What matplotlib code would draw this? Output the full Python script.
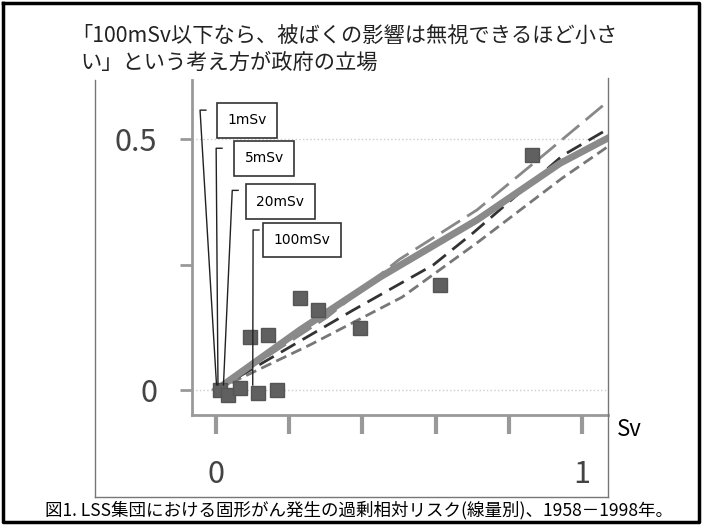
import matplotlib.pyplot as plt
from matplotlib.lines import Line2D

plt.rcParams['font.family'] = ['Noto Sans CJK JP', 'DejaVu Sans']

# data (Sv, excess relative risk)
dose_pts = [0.011, 0.033, 0.066, 0.115, 0.167, 0.093, 0.142, 0.23, 0.279, 0.393, 0.612, 0.863]
err_pts = [0.0, -0.01, 0.004, -0.006, 0.0, 0.106, 0.110, 0.183, 0.159, 0.124, 0.209, 0.468]

main_x = [0.0, 0.23, 0.448, 0.713, 0.94, 1.07]
main_y = [0.0, 0.12, 0.225, 0.339, 0.452, 0.502]
upper_x = [0.0, 0.303, 0.5, 0.713, 0.904, 1.07]
upper_y = [0.0, 0.145, 0.26, 0.359, 0.474, 0.575]
mid_x = [0.0, 0.374, 0.593, 0.702, 0.948, 1.07]
mid_y = [0.0, 0.159, 0.249, 0.313, 0.468, 0.52]
low_x = [0.0, 0.257, 0.508, 0.716, 0.945, 1.07]
low_y = [0.0, 0.09, 0.185, 0.295, 0.422, 0.485]

labels = ['1mSv', '5mSv', '20mSv', '100mSv']
label_dose = [0.001, 0.005, 0.02, 0.1]
# where the boxes and leader tops sit (data coords)
box_pos = [(0.085, 0.538), (0.131, 0.462), (0.175, 0.375), (0.235, 0.299)]
lead_top = [(-0.044, 0.558), (0.0, 0.482), (0.044, 0.398), (0.101, 0.319)]

fig = plt.figure(figsize=(7.02, 5.25), dpi=100)
ax = fig.add_axes([0.2735, 0.2095, 0.5926, 0.638])
ax.set_xlim(-0.066, 1.071)
ax.set_ylim(-0.05, 0.618)

ax.axhline(0.5, color='#cccccc', lw=1, ls=':')
ax.axhline(0.0, color='#cccccc', lw=1, ls=':')

ax.plot(low_x, low_y, color='#777777', lw=2, ls=(0, (4, 2)))
ax.plot(mid_x, mid_y, color='#333333', lw=2, ls=(0, (6, 3)))
ax.plot(upper_x, upper_y, color='#888888', lw=2, ls=(0, (8, 3)))
ax.plot(main_x, main_y, color='#8a8a8a', lw=5)
ax.plot(dose_pts, err_pts, 's', color='#606060', ms=10, mec='#555555')

for lab, d, bp, lt in zip(labels, label_dose, box_pos, lead_top):
    ax.plot([d, lt[0], lt[0] + 0.016], [0.01, lt[1], lt[1]], color='#222222', lw=1)
    ax.text(bp[0], bp[1], lab, ha='center', va='center', fontsize=10, family='DejaVu Sans',
            bbox=dict(boxstyle='square,pad=0.75', fc='white', ec='#333333', lw=1.2))

ax.set_xticks([0, 0.2, 0.4, 0.6, 0.8, 1.0])
ax.set_xticklabels(['0', '', '', '', '', '1'])
ax.set_yticks([0, 0.25, 0.5])
ax.set_yticklabels(['0', '', '0.5'])
ax.tick_params(axis='x', length=14, width=3, color='#999999', pad=18, labelsize=22, labelcolor='#444444')
ax.tick_params(axis='y', length=9, width=2, color='#999999', pad=16, labelsize=22, labelcolor='#444444')
for s in ['top', 'right']:
    ax.spines[s].set_visible(False)
for s in ['left', 'bottom']:
    ax.spines[s].set_color('#999999')
    ax.spines[s].set_linewidth(2)

# frame of the pasted picture (no top edge)
W, H = 702.0, 525.0
for xs, ys in [([95, 95], [80, 497]), ([95, 608], [497, 497]), ([608, 608], [78, 497])]:
    fig.add_artist(Line2D([x / W for x in xs], [1 - y / H for y in ys], color='#777777', lw=1))
fig.add_artist(Line2D([3 / W, 1 - 3 / W, 1 - 3 / W, 3 / W, 3 / W],
                      [1 - 3 / H, 1 - 3 / H, 3 / H, 3 / H, 1 - 3 / H], color='black', lw=2.5))

fig.text(617 / W, 1 - 430 / H, 'Sv', fontsize=16, va='center', ha='left', color='black')
fig.text(71 / W, 1 - 36 / H, '「100mSv以下なら、被ばくの影響は無視できるほど小さ', fontsize=15.3,
         va='center', ha='left', color='#222222')
fig.text(80 / W, 1 - 63 / H, 'い」という考え方が政府の立場', fontsize=15.3,
         va='center', ha='left', color='#222222')
fig.text(45 / W, 1 - 510 / H, '図1. LSS集団における固形がん発生の過剰相対リスク(線量別)、1958－1998年。',
         fontsize=12.6, va='center', ha='left', color='black')

fig.savefig('out.png', dpi=100)
